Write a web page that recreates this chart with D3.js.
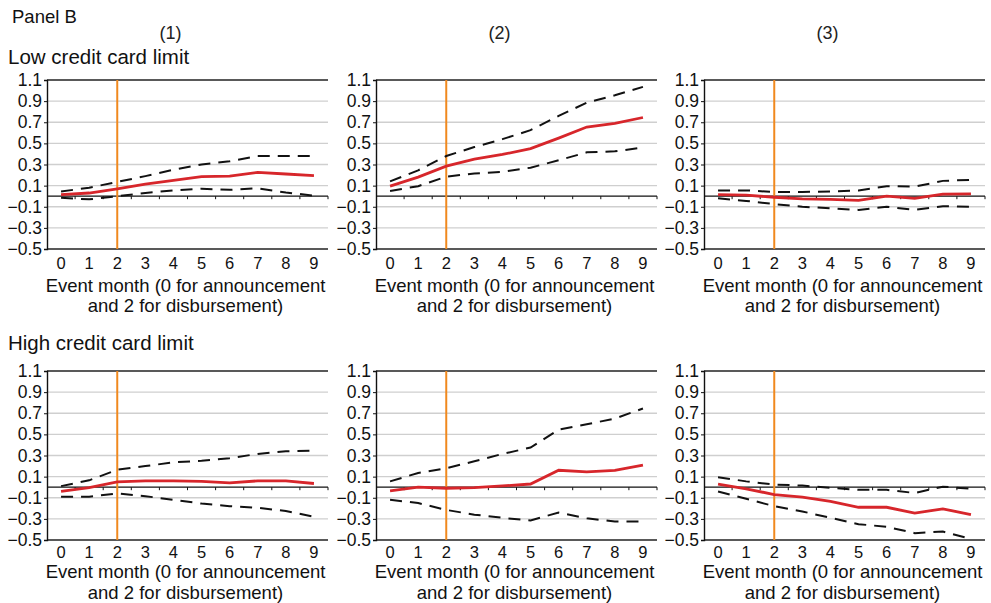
<!DOCTYPE html>
<html>
<head>
<meta charset="utf-8">
<script src="https://cdn.jsdelivr.net/npm/d3@7.9.0/dist/d3.min.js"></script>
<style>
  body { margin: 0; background: #fff; }
  svg { display: block; font-family: "Liberation Sans", Arial, sans-serif; }
</style>
</head>
<body>
<svg id="chart" width="991" height="603"></svg>
<script>
const months = [0, 1, 2, 3, 4, 5, 6, 7, 8, 9];
const yTicks = [1.1, 0.9, 0.7, 0.5, 0.3, 0.1, -0.1, -0.3, -0.5];
const columnLabels = ["(1)", "(2)", "(3)"];
const rowLabels = ["Low credit card limit", "High credit card limit"];
const disbursementMonth = 2;

// low credit card limit, columns (1)-(3)
const lowEst = [
  [0.015, 0.03, 0.07, 0.115, 0.15, 0.185, 0.19, 0.225, 0.21, 0.195],
  [0.095, 0.18, 0.285, 0.35, 0.395, 0.45, 0.55, 0.655, 0.69, 0.745],
  [0.015, 0.01, -0.01, -0.025, -0.03, -0.04, 0.0, -0.02, 0.02, 0.022],
];
const lowUpper = [
  [0.045, 0.08, 0.135, 0.19, 0.25, 0.3, 0.33, 0.38, 0.38, 0.38],
  [0.14, 0.245, 0.38, 0.465, 0.54, 0.625, 0.76, 0.885, 0.955, 1.035],
  [0.055, 0.055, 0.04, 0.04, 0.045, 0.055, 0.095, 0.09, 0.145, 0.155],
];
const lowLower = [
  [-0.015, -0.03, 0.0, 0.03, 0.055, 0.07, 0.06, 0.075, 0.035, 0.005],
  [0.05, 0.095, 0.185, 0.215, 0.23, 0.27, 0.34, 0.415, 0.425, 0.46],
  [-0.02, -0.045, -0.075, -0.1, -0.115, -0.13, -0.1, -0.13, -0.095, -0.1],
];

// high credit card limit, columns (1)-(3)
const highEst = [
  [-0.04, -0.005, 0.05, 0.06, 0.06, 0.055, 0.04, 0.06, 0.06, 0.035],
  [-0.035, 0.0, -0.01, -0.005, 0.012, 0.03, 0.16, 0.145, 0.16, 0.21],
  [0.03, -0.015, -0.07, -0.095, -0.135, -0.19, -0.19, -0.245, -0.205, -0.26],
];
const highUpper = [
  [0.01, 0.065, 0.165, 0.2, 0.235, 0.25, 0.275, 0.315, 0.34, 0.345],
  [0.055, 0.135, 0.18, 0.245, 0.315, 0.375, 0.545, 0.595, 0.65, 0.745],
  [0.095, 0.055, 0.025, 0.015, -0.005, -0.025, -0.025, -0.055, 0.005, -0.015],
];
const highLower = [
  [-0.09, -0.09, -0.06, -0.085, -0.12, -0.155, -0.18, -0.195, -0.225, -0.28],
  [-0.12, -0.15, -0.215, -0.26, -0.29, -0.315, -0.24, -0.295, -0.325, -0.325],
  [-0.04, -0.11, -0.18, -0.23, -0.29, -0.35, -0.375, -0.435, -0.42, -0.49],
];

const rows = [
  { est: lowEst, upper: lowUpper, lower: lowLower },
  { est: highEst, upper: highUpper, lower: highLower },
];

const svg = d3.select("#chart");

const colLeft = [47, 376, 704];
const plotW = 281;
const rowTop = [80, 371];
const plotH = 169;
// per-row text offsets below plot bottom: tick labels, title line 1, line 2
const textOff = [[20, 43, 63], [18, 38, 59]];

svg.append("text")
  .attr("x", 12).attr("y", 23)
  .attr("font-size", 18.5)
  .attr("fill", "#111")
  .text("Panel B");

columnLabels.forEach((lab, i) => {
  svg.append("text")
    .attr("x", colLeft[i] + plotW / 2 - 17)
    .attr("y", 39)
    .attr("text-anchor", "middle")
    .attr("font-size", 18)
    .attr("fill", "#222")
    .text(lab);
});

const rowLabelY = [64, 350];
rowLabels.forEach((lab, r) => {
  svg.append("text")
    .attr("x", 8).attr("y", rowLabelY[r])
    .attr("font-size", 20.5)
    .attr("fill", "#111")
    .text(lab);
});

const fmt = d3.format(".1f");

rows.forEach((row, r) => {
  columnLabels.forEach((_, c) => {
    const left = colLeft[c];
    const top = rowTop[r];
    const bottom = top + plotH;

    const x = d3.scalePoint().domain(months).range([left, left + plotW]).padding(0.5);
    const band = d3.scaleBand().domain(months).range([left, left + plotW]);
    const y = d3.scaleLinear().domain([-0.5, 1.1]).range([bottom, top]);

    const g = svg.append("g");

    // gridlines
    g.selectAll("line.grid")
      .data(yTicks.filter((d) => d !== 1.1 && d !== -0.5))
      .join("line")
      .attr("class", "grid")
      .attr("x1", left).attr("x2", left + plotW)
      .attr("y1", (d) => y(d)).attr("y2", (d) => y(d))
      .attr("stroke", "#cfcfcf")
      .attr("stroke-width", 1.3);

    // top and bottom frame lines
    [1.1, -0.5].forEach((v) => {
      g.append("line")
        .attr("x1", left).attr("x2", left + plotW)
        .attr("y1", y(v)).attr("y2", y(v))
        .attr("stroke", "#222")
        .attr("stroke-width", 1.4);
    });

    // y axis
    const yAxis = d3.axisLeft(y).tickValues(yTicks).tickSize(3).tickPadding(2).tickFormat(fmt);
    const ya = g.append("g").attr("transform", `translate(${left},0)`).call(yAxis);
    ya.select(".domain").attr("stroke", "#111").attr("stroke-width", 1.4);
    ya.selectAll(".tick line").attr("stroke", "#111");
    ya.selectAll(".tick text")
      .attr("font-size", 17.5)
      .attr("font-family", "Liberation Sans, Arial, sans-serif")
      .attr("fill", "#111");

    // zero line with ticks at month boundaries
    g.append("line")
      .attr("x1", left).attr("x2", left + plotW)
      .attr("y1", y(0)).attr("y2", y(0))
      .attr("stroke", "#111")
      .attr("stroke-width", 1.2);
    g.selectAll("line.xt")
      .data(months.slice(1).map((m) => band(m)).concat([left + plotW]))
      .join("line")
      .attr("class", "xt")
      .attr("x1", (d) => d).attr("x2", (d) => d)
      .attr("y1", y(0)).attr("y2", y(0) + 3)
      .attr("stroke", "#111");

    // month labels
    g.selectAll("text.xl")
      .data(months)
      .join("text")
      .attr("class", "xl")
      .attr("x", (d) => x(d))
      .attr("y", bottom + textOff[r][0])
      .attr("text-anchor", "middle")
      .attr("font-size", 16.5)
      .attr("fill", "#111")
      .text((d) => d);

    const titleLines = ["Event month (0 for announcement", "and 2 for disbursement)"];
    titleLines.forEach((t, k) => {
      g.append("text")
        .attr("x", left + plotW / 2 - 2)
        .attr("y", bottom + textOff[r][k + 1])
        .attr("text-anchor", "middle")
        .attr("font-size", 18.5)
        .attr("fill", "#111")
        .text(t);
    });

    // disbursement marker
    g.append("line")
      .attr("x1", x(disbursementMonth)).attr("x2", x(disbursementMonth))
      .attr("y1", top).attr("y2", bottom)
      .attr("stroke", "#f0891e")
      .attr("stroke-width", 2);

    const line = d3.line().x((d, i) => x(months[i])).y((d) => y(d));

    [row.upper[c], row.lower[c]].forEach((vals) => {
      g.append("path")
        .attr("d", line(vals))
        .attr("fill", "none")
        .attr("stroke", "#111")
        .attr("stroke-width", 2)
        .attr("stroke-dasharray", "12,8");
    });

    g.append("path")
      .attr("d", line(row.est[c]))
      .attr("fill", "none")
      .attr("stroke", "#d7262b")
      .attr("stroke-width", 2.8);
  });
});
</script>
</body>
</html>
